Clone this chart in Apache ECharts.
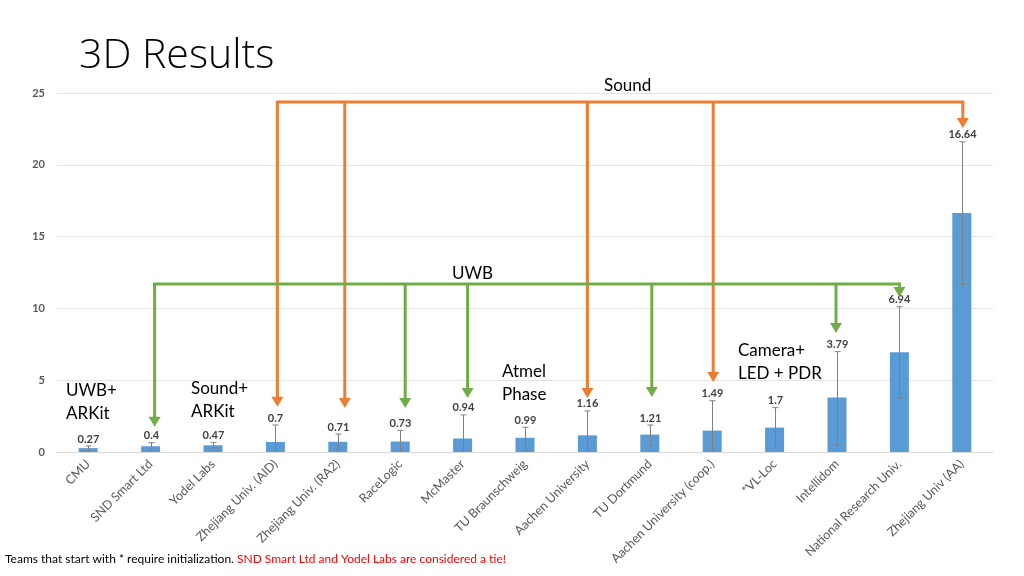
<!DOCTYPE html>
<html>
<head>
<meta charset="utf-8">
<script src="https://cdn.jsdelivr.net/npm/echarts@6/dist/echarts.min.js"></script>
<style>
html,body{margin:0;padding:0;background:#fff;}
#chart{width:1024px;height:576px;}
</style>
</head>
<body>
<div id="chart"></div>
<script>
// ---- data ----
var categories = ["CMU","SND Smart Ltd","Yodel Labs","Zhejiang Univ. (AID)","Zhejiang Univ. (RA2)","RaceLogic","McMaster","TU Braunschweig","Aachen University","TU Dortmund","Aachen University (coop.)","*VL-Loc","Intellidom","National Research Univ.","Zhejiang Univ (AA)"];
var values = [0.27,0.4,0.47,0.7,0.71,0.73,0.94,0.99,1.16,1.21,1.49,1.7,3.79,6.94,16.64];
var errLow  = [0.07,0.15,0.27,0,0.17,0,0,0.14,0,0.44,0,0.3,0.5,3.76,11.68];
var errHigh = [0.42,0.65,0.67,1.88,1.25,1.51,2.58,1.72,2.86,1.88,3.57,3.09,6.99,10.12,21.6];
var yTicks = [0,5,10,15,20,25];

// annotation groups (tech families)
var soundGroup = {label:"Sound", level:24.37, targets:[
  {cat:3, tip:3.15, dx:2},{cat:4, tip:3.06, dx:7},{cat:8, tip:3.76, dx:0},{cat:10, tip:4.87, dx:1},{cat:14, tip:22.56, dx:1}]};
var uwbGroup = {label:"UWB", level:11.7, targets:[
  {cat:1, tip:1.76, dx:4},{cat:5, tip:3.06, dx:5},{cat:6, tip:3.76, dx:5},{cat:9, tip:3.83, dx:2},{cat:12, tip:8.29, dx:-1},{cat:13, tip:10.79, dx:0}]};

var chart = echarts.init(document.getElementById('chart'), null, {renderer:'canvas'});
var FONT = 'Lato, "Open Sans", sans-serif';

var errData = categories.map(function(c,i){ return [i, errLow[i], errHigh[i], values[i]]; });

var option = {
  animation:false,
  backgroundColor:'#ffffff',
  grid:{left:57, right:31, top:93, bottom:124},
  xAxis:{
    type:'category', data:categories,
    axisLine:{lineStyle:{color:'#d9d9d9', width:1}},
    axisTick:{show:false},
    axisLabel:{rotate:45, interval:0, color:'#595959', fontSize:12.5, fontWeight:'normal', fontFamily:FONT, margin:10}
  },
  yAxis:{
    type:'value', min:0, max:25, interval:5,
    axisLine:{show:false}, axisTick:{show:false},
    splitLine:{lineStyle:{color:'#e3e3e3', width:1}},
    axisLabel:{color:'#595959', fontSize:11, fontWeight:'bold', fontFamily:FONT, margin:12}
  },
  series:[
    {type:'bar', data:values, barWidth:19, itemStyle:{color:'#5b9bd5'}},
    {type:'custom', data:errData, z:5,
      renderItem:function(params, api){
        var i = api.value(0);
        var lo = api.coord([i, api.value(1)]);
        var hi = api.coord([i, api.value(2)]);
        var x = Math.round(hi[0])+0.5;
        var children = [
          {type:'line', shape:{x1:x,y1:hi[1],x2:x,y2:lo[1]}, style:{stroke:'#808080', lineWidth:1}},
          {type:'line', shape:{x1:x-3,y1:hi[1],x2:x+3,y2:hi[1]}, style:{stroke:'#808080', lineWidth:1}},
          {type:'text', style:{text:String(api.value(3)), x:x, y:hi[1]-7, textAlign:'center', textVerticalAlign:'middle', fill:'#404040', font:'bold 11px '+FONT}}
        ];
        if (api.value(1) > 0) {
          children.push({type:'line', shape:{x1:x-3,y1:lo[1],x2:x+3,y2:lo[1]}, style:{stroke:'#808080', lineWidth:1}});
        }
        return {type:'group', children:children};
      }
    }
  ]
};
chart.setOption(option);

function arrowGroup(group, color){
  var els = [];
  var lvl = chart.convertToPixel({gridIndex:0}, [0, group.level])[1];
  var xs = group.targets.map(function(t){ return chart.convertToPixel({gridIndex:0}, [t.cat, 0])[0] + t.dx; });
  var xmin = Math.min.apply(null, xs), xmax = Math.max.apply(null, xs);
  els.push({type:'line', shape:{x1:xmin-1.5, y1:lvl, x2:xmax+1.5, y2:lvl}, style:{stroke:color, lineWidth:3}, z:10});
  group.targets.forEach(function(t, k){
    var x = xs[k];
    var tipY = chart.convertToPixel({gridIndex:0}, [t.cat, t.tip])[1];
    els.push({type:'line', shape:{x1:x, y1:lvl, x2:x, y2:tipY-8}, style:{stroke:color, lineWidth:3}, z:10});
    els.push({type:'polygon', shape:{points:[[x-6, tipY-10],[x+6, tipY-10],[x, tipY]]}, style:{fill:color}, z:10});
  });
  return els;
}

var elements = [].concat(arrowGroup(soundGroup, '#ed7d31'), arrowGroup(uwbGroup, '#70ad47'));

function txt(text, x, y, size, extra){
  var o = {type:'text', x:x, y:y, z:20, style:{text:text, fill:'#000', font:(size||17)+'px '+FONT, textVerticalAlign:'middle', lineHeight:23}};
  if (extra) for (var k in extra) o.style[k] = extra[k];
  return o;
}
elements.push(txt('Sound', 604, 86));
elements.push(txt('UWB', 452, 274));
elements.push(txt('UWB+\nARKit', 66, 402));
elements.push(txt('Sound+\nARKit', 191, 400));
elements.push(txt('Atmel\nPhase', 502, 383));
elements.push(txt('Camera+\nLED + PDR', 738, 362));
elements.push({type:'text', x:79, y:56, z:20, style:{text:'3D Results', fill:'#000', font:'300 41px "Open Sans", Lato, sans-serif', textVerticalAlign:'middle'}});
elements.push({type:'text', x:5, y:559, z:20, style:{
  rich:{a:{fill:'#000', font:'12px '+FONT}, b:{fill:'#ff0000', font:'12px '+FONT}},
  text:'{a|Teams that start with * require initialization. }{b|SND Smart Ltd and Yodel Labs are considered a tie!}',
  textVerticalAlign:'middle'}});

chart.setOption({graphic:{elements:elements}});
</script>
</body>
</html>
